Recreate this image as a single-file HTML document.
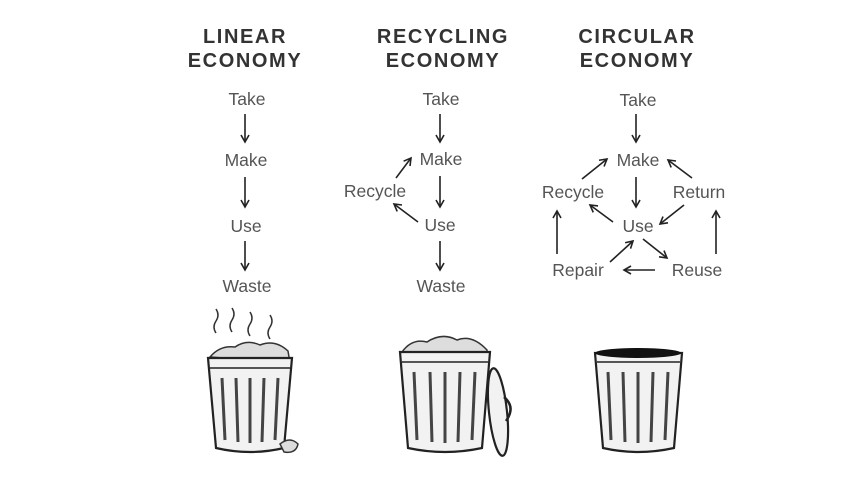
<!DOCTYPE html>
<html><head><style>
body{margin:0;background:#fff;}
svg{display:block}
.t{font-family:"Liberation Sans",sans-serif;font-size:17.5px;fill:#555;text-anchor:middle}
.h{font-family:"Liberation Sans",sans-serif;font-size:20px;font-weight:bold;fill:#333;text-anchor:middle;letter-spacing:1.6px}
.a{stroke:#222;stroke-width:1.6;fill:none;marker-end:url(#m)}
.b{stroke:#222;stroke-width:2.2;fill:#f2f2f2}
.s{stroke:#333;stroke-width:1.5;fill:#ddd}
</style></head><body>
<svg width="862" height="491" viewBox="0 0 862 491">
<defs><marker id="m" markerWidth="10" markerHeight="10" refX="8" refY="5" orient="auto" markerUnits="userSpaceOnUse"><path d="M1,1 L8,5 L1,9" fill="none" stroke="#222" stroke-width="1.6"/></marker></defs>
<text class="h" x="245" y="43">LINEAR</text><text class="h" x="245" y="67">ECONOMY</text>
<text class="h" x="443" y="43">RECYCLING</text><text class="h" x="443" y="67">ECONOMY</text>
<text class="h" x="637" y="43">CIRCULAR</text><text class="h" x="637" y="67">ECONOMY</text>

<text class="t" x="247" y="105">Take</text><text class="t" x="246" y="166">Make</text><text class="t" x="246" y="232">Use</text><text class="t" x="247" y="292">Waste</text>
<line class="a" x1="245" y1="114" x2="245" y2="142"/><line class="a" x1="245" y1="177" x2="245" y2="207"/><line class="a" x1="245" y1="241" x2="245" y2="270"/>

<text class="t" x="441" y="105">Take</text><text class="t" x="441" y="165">Make</text><text class="t" x="375" y="197">Recycle</text><text class="t" x="440" y="231">Use</text><text class="t" x="441" y="292">Waste</text>
<line class="a" x1="440" y1="114" x2="440" y2="142"/><line class="a" x1="440" y1="176" x2="440" y2="207"/><line class="a" x1="440" y1="241" x2="440" y2="270"/>
<line class="a" x1="396" y1="178" x2="411" y2="158"/><line class="a" x1="418" y1="222" x2="394" y2="204"/>

<text class="t" x="638" y="106">Take</text><text class="t" x="638" y="166">Make</text><text class="t" x="573" y="198">Recycle</text><text class="t" x="699" y="198">Return</text><text class="t" x="638" y="232">Use</text><text class="t" x="578" y="276">Repair</text><text class="t" x="697" y="276">Reuse</text>
<line class="a" x1="636" y1="114" x2="636" y2="142"/><line class="a" x1="636" y1="177" x2="636" y2="207"/>
<line class="a" x1="582" y1="179" x2="607" y2="159"/><line class="a" x1="692" y1="178" x2="668" y2="160"/>
<line class="a" x1="684" y1="205" x2="660" y2="224"/><line class="a" x1="613" y1="222" x2="590" y2="205"/>
<line class="a" x1="643" y1="239" x2="667" y2="258"/><line class="a" x1="655" y1="270" x2="624" y2="270"/>
<line class="a" x1="610" y1="262" x2="633" y2="241"/><line class="a" x1="557" y1="254" x2="557" y2="211"/><line class="a" x1="716" y1="254" x2="716" y2="211"/>

<g>
<path d="M216,309 q4,6 0,12 q-4,6 0,12 M232,308 q4,6 0,12 q-4,6 0,12 M250,312 q4,6 0,12 q-4,6 0,12 M270,315 q4,6 0,12 q-4,6 0,12" stroke="#333" stroke-width="1.5" fill="none"/>
<path class="s" d="M210,357 q10,-12 25,-10 q12,-8 25,-2 q15,-6 28,6 l2,12 z"/>
<path class="b" d="M208,358 L292,358 L284,448 Q250,456 216,448 Z"/>
<line x1="210" y1="368" x2="290" y2="368" stroke="#222" stroke-width="1.5"/>
<g stroke="#444" stroke-width="3"><line x1="222" y1="378" x2="225" y2="440"/><line x1="236" y1="378" x2="238" y2="442"/><line x1="250" y1="378" x2="250" y2="443"/><line x1="264" y1="378" x2="262" y2="442"/><line x1="278" y1="378" x2="275" y2="440"/></g>
<path class="s" d="M280,444 q10,-8 18,0 q-2,10 -14,8 z"/>
</g>
<g>
<path class="s" d="M402,352 q10,-14 25,-10 q15,-10 30,-2 q15,-6 30,10 l0,6 z"/>
<path class="b" d="M400,352 L490,352 L482,448 Q445,456 408,448 Z"/>
<line x1="402" y1="362" x2="488" y2="362" stroke="#222" stroke-width="1.5"/>
<g stroke="#444" stroke-width="3"><line x1="414" y1="372" x2="417" y2="440"/><line x1="430" y1="372" x2="432" y2="442"/><line x1="445" y1="372" x2="445" y2="443"/><line x1="460" y1="372" x2="458" y2="442"/><line x1="475" y1="372" x2="472" y2="440"/></g>
<ellipse class="b" cx="498" cy="412" rx="9" ry="44" transform="rotate(-6 498 412)"/>
<path d="M504,397 q12,10 2,24" stroke="#222" stroke-width="2.5" fill="none"/>
</g>
<g>
<path class="b" d="M595,353 L682,353 L674,448 Q638,456 603,448 Z"/>
<ellipse cx="638" cy="353" rx="43" ry="5" fill="#111"/>
<line x1="597" y1="362" x2="680" y2="362" stroke="#222" stroke-width="1.5"/>
<g stroke="#444" stroke-width="3"><line x1="608" y1="372" x2="611" y2="440"/><line x1="623" y1="372" x2="625" y2="442"/><line x1="638" y1="372" x2="638" y2="443"/><line x1="653" y1="372" x2="651" y2="442"/><line x1="668" y1="372" x2="665" y2="440"/></g>
</g>
</svg>
</body></html>
